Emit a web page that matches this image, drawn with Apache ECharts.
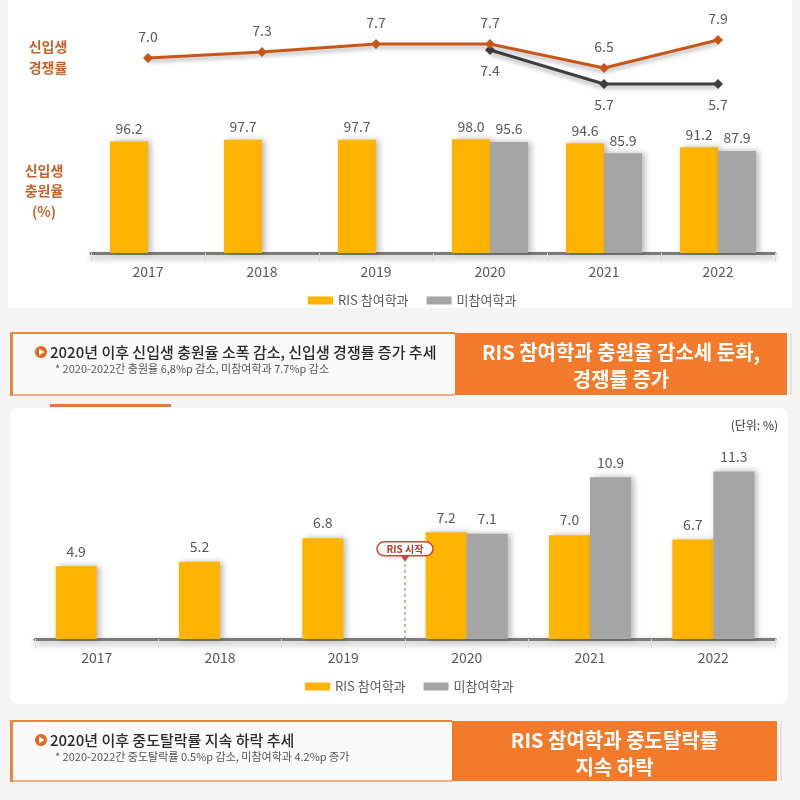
<!DOCTYPE html>
<html><head><meta charset="utf-8">
<script src="https://cdn.jsdelivr.net/npm/echarts@6/dist/echarts.min.js"></script>
<style>html,body{margin:0;padding:0;background:#f4f4f4}#c{width:800px;height:800px}</style>
</head><body><div id="c"></div>
<script>
// ---- data ----
const years = ['2017','2018','2019','2020','2021','2022'];
const compRIS = [7.0, 7.3, 7.7, 7.7, 6.5, 7.9];      // 신입생 경쟁률 RIS
const compNon = [null, null, null, 7.4, 5.7, 5.7];    // 신입생 경쟁률 미참여
const fillRIS = [96.2, 97.7, 97.7, 98.0, 94.6, 91.2]; // 신입생 충원율 RIS
const fillNon = [null, null, null, 95.6, 85.9, 87.9]; // 신입생 충원율 미참여
const dropRIS = [4.9, 5.2, 6.8, 7.2, 7.0, 6.7];       // 중도탈락률 RIS
const dropNon = [null, null, null, 7.1, 10.9, 11.3];  // 중도탈락률 미참여
const risStart = [[2.5, 5.2]];                        // RIS 시작 marker (between 2019 and 2020)
const legendNames = ['RIS 참여학과', '미참여학과'];

const FONT = '"Noto Sans CJK KR", "Noto Sans", sans-serif';
const ORANGE = '#FFB400', GRAY = '#A5A5A5';
const LINE_OR = '#C8561A', LINE_GR = '#3F3F3F';
const BOX_OR = '#F47A2B';

const chart = echarts.init(document.getElementById('c'), null, {renderer: 'canvas'});

const barShadow = {shadowColor: 'rgba(0,0,0,0.28)', shadowBlur: 6, shadowOffsetX: 3, shadowOffsetY: 0};
const lblStyle = {color: '#595959', fontSize: 14, fontFamily: FONT};

function catAxis(grid, show) {
  return {
    type: 'category', gridIndex: grid, data: years, show: show,
    axisLine: {show: true, lineStyle: {color: '#7a7a7a', width: 3, shadowColor: 'rgba(0,0,0,0.35)', shadowBlur: 6, shadowOffsetY: 3}},
    axisTick: {show: true, length: 9, lineStyle: {color: '#dcdcdc', width: 1}},
    axisLabel: {color: '#595959', fontSize: 14, margin: 12, fontFamily: FONT},
    splitLine: {show: false}
  };
}
function valAxis(grid, min, max) {
  return {type: 'value', gridIndex: grid, min: min, max: max, show: false, splitLine: {show: false}};
}

function boxGraphics(y, h, splitX, endX, main, sub, right1, right2) {
  const cy = y + 19;
  return [
    {type: 'rect', shape: {x: 10, y: y, width: splitX - 10, height: h}, style: {fill: '#fafafa'}, z: -5},
    {type: 'rect', shape: {x: splitX, y: y, width: endX - splitX, height: h}, style: {fill: BOX_OR}, z: -4},
    {type: 'rect', shape: {x: 10, y: y - 1, width: splitX - 10, height: 2}, style: {fill: '#EF8440'}, z: -3},
    {type: 'rect', shape: {x: 10, y: y + h - 1, width: splitX - 10, height: 2}, style: {fill: '#F3B088'}, z: -3},
    {type: 'rect', shape: {x: 10, y: y - 1, width: 3, height: h + 2}, style: {fill: '#EF8440'}, z: -3},
    {type: 'rect', shape: {x: endX + 3, y: y, width: 2, height: h}, style: {fill: '#e2e2e2'}, z: -3},
    {type: 'circle', shape: {cx: 41, cy: cy, r: 6}, style: {fill: '#E8641B'}},
    {type: 'polygon', shape: {points: [[39, cy - 3.5], [39, cy + 3.5], [44.5, cy]]}, style: {fill: '#fff'}},
    {type: 'text', x: 50, y: cy, style: {text: main, fill: '#2b2b2b', font: '500 15px ' + FONT, verticalAlign: 'middle'}},
    {type: 'text', x: 55, y: cy + 17, style: {text: sub, fill: '#555', font: '11px ' + FONT, verticalAlign: 'middle'}},
    {type: 'text', x: (splitX + endX) / 2, y: y + 19, style: {text: right1, fill: '#fff', font: 'bold 20px ' + FONT, align: 'center', verticalAlign: 'middle'}},
    {type: 'text', x: (splitX + endX) / 2, y: y + 46, style: {text: right2, fill: '#fff', font: 'bold 20px ' + FONT, align: 'center', verticalAlign: 'middle'}}
  ];
}

const graphics = [
  {type: 'rect', shape: {x: 8, y: 0, width: 784, height: 308}, style: {fill: '#ffffff'}, z: -10},
  {type: 'rect', shape: {x: 10, y: 408, width: 778, height: 296, r: 8}, style: {fill: '#ffffff'}, z: -10},
  {type: 'rect', shape: {x: 50, y: 404, width: 121, height: 3}, style: {fill: '#E8783A'}, z: -2},
  {type: 'text', x: 48, y: 47, style: {text: '신입생', fill: '#C4622D', font: 'bold 14px ' + FONT, align: 'center', verticalAlign: 'middle'}},
  {type: 'text', x: 48, y: 68, style: {text: '경쟁률', fill: '#C4622D', font: 'bold 14px ' + FONT, align: 'center', verticalAlign: 'middle'}},
  {type: 'text', x: 44, y: 171, style: {text: '신입생', fill: '#C4622D', font: 'bold 14px ' + FONT, align: 'center', verticalAlign: 'middle'}},
  {type: 'text', x: 44, y: 191, style: {text: '충원율', fill: '#C4622D', font: 'bold 14px ' + FONT, align: 'center', verticalAlign: 'middle'}},
  {type: 'text', x: 44, y: 212, style: {text: '(%)', fill: '#C4622D', font: 'bold 14px ' + FONT, align: 'center', verticalAlign: 'middle'}},
  {type: 'text', x: 778, y: 425, style: {text: '(단위: %)', fill: '#333', font: '12px ' + FONT, align: 'right', verticalAlign: 'middle'}}
].concat(
  boxGraphics(333, 62, 455, 787,
    '2020년 이후 신입생 충원율 소폭 감소, 신입생 경쟁률 증가 추세',
    '* 2020-2022간 충원율 6,8%p 감소, 미참여학과 7.7%p 감소',
    'RIS 참여학과 충원율 감소세 둔화,', '경쟁률 증가'),
  boxGraphics(721, 60, 452, 777,
    '2020년 이후 중도탈락률 지속 하락 추세',
    '* 2020-2022간 중도탈락률 0.5%p 감소, 미참여학과 4.2%p 증가',
    'RIS 참여학과 중도탈락률', '지속 하락')
);

const legendBase = {
  data: legendNames, icon: 'rect', itemWidth: 25, itemHeight: 8, itemGap: 18,
  textStyle: {color: '#595959', fontSize: 13, fontFamily: FONT}, selectedMode: false
};

const option = {
  backgroundColor: '#f4f4f4',
  animation: false,
  textStyle: {fontFamily: FONT},
  graphic: graphics,
  legend: [
    Object.assign({left: 303, top: 289}, legendBase),
    Object.assign({left: 300, top: 675}, legendBase)
  ],
  grid: [
    {left: 91, right: 25, top: 28, height: 70},
    {left: 91, right: 25, top: 137, height: 116},
    {left: 35, right: 25, top: 461, height: 178}
  ],
  xAxis: [
    catAxis(0, false),
    catAxis(1, true),
    catAxis(2, true),
    {type: 'value', gridIndex: 2, min: -0.5, max: 5.5, show: false, splitLine: {show: false}}
  ],
  yAxis: [
    valAxis(0, 5, 8.5),
    valAxis(1, 0, 100),
    valAxis(2, 0, 12)
  ],
  series: [
    {
      name: '경쟁률 RIS', type: 'line', xAxisIndex: 0, yAxisIndex: 0, data: compRIS,
      symbol: 'diamond', symbolSize: 10, itemStyle: {color: LINE_OR},
      lineStyle: {color: LINE_OR, width: 3, shadowColor: 'rgba(0,0,0,0.3)', shadowBlur: 4, shadowOffsetY: 3},
      label: Object.assign({show: true, position: 'top', distance: 9, formatter: p => p.value.toFixed(1)}, lblStyle),
      z: 4
    },
    {
      name: '경쟁률 미참여', type: 'line', xAxisIndex: 0, yAxisIndex: 0, data: compNon,
      symbol: 'diamond', symbolSize: 10, itemStyle: {color: LINE_GR},
      lineStyle: {color: LINE_GR, width: 3, shadowColor: 'rgba(0,0,0,0.3)', shadowBlur: 4, shadowOffsetY: 3},
      label: Object.assign({show: true, position: 'bottom', distance: 9, formatter: p => p.value.toFixed(1)}, lblStyle),
      z: 3
    },
    {
      name: legendNames[0], type: 'bar', xAxisIndex: 1, yAxisIndex: 1, data: fillRIS,
      barWidth: 38, barGap: '0%', itemStyle: Object.assign({color: ORANGE}, barShadow),
      label: Object.assign({show: true, position: 'top', distance: 6, formatter: p => p.value.toFixed(1)}, lblStyle)
    },
    {
      name: legendNames[1], type: 'bar', xAxisIndex: 1, yAxisIndex: 1, data: fillNon,
      barWidth: 38, barGap: '0%', itemStyle: Object.assign({color: GRAY}, barShadow),
      label: Object.assign({show: true, position: 'top', distance: 6, formatter: p => p.value.toFixed(1)}, lblStyle)
    },
    {
      name: legendNames[0], type: 'bar', xAxisIndex: 2, yAxisIndex: 2, data: dropRIS,
      barWidth: 41, barGap: '0%', itemStyle: Object.assign({color: ORANGE}, barShadow),
      label: Object.assign({show: true, position: 'top', distance: 8, formatter: p => p.value.toFixed(1)}, lblStyle)
    },
    {
      name: legendNames[1], type: 'bar', xAxisIndex: 2, yAxisIndex: 2, data: dropNon,
      barWidth: 41, barGap: '0%', itemStyle: Object.assign({color: GRAY}, barShadow),
      label: Object.assign({show: true, position: 'top', distance: 8, formatter: p => p.value.toFixed(1)}, lblStyle)
    },
    {
      name: 'RIS 시작', type: 'custom', xAxisIndex: 3, yAxisIndex: 2, data: risStart, z: 6,
      renderItem: function (params, api) {
        const base = api.coord([api.value(0), 0]);
        const top = api.coord([api.value(0), api.value(1)]);
        const x = top[0], y = top[1];
        return {type: 'group', children: [
          {type: 'line', shape: {x1: base[0], y1: base[1], x2: x, y2: y}, style: {stroke: '#D9534F', lineWidth: 1, lineDash: [3, 3]}},
          {type: 'polygon', shape: {points: [[x - 5, y - 7], [x + 5, y - 7], [x, y]]}, style: {fill: '#D0443A'}},
          {type: 'rect', shape: {x: x - 28, y: y - 20, width: 56, height: 14, r: 7}, style: {fill: '#fff', stroke: '#D0443A', lineWidth: 1.5}},
          {type: 'text', style: {text: 'RIS 시작', x: x, y: y - 13, align: 'center', verticalAlign: 'middle', fill: '#C0392B', font: 'bold 10px ' + FONT}}
        ]};
      }
    }
  ]
};
chart.setOption(option);
</script>
</body></html>
